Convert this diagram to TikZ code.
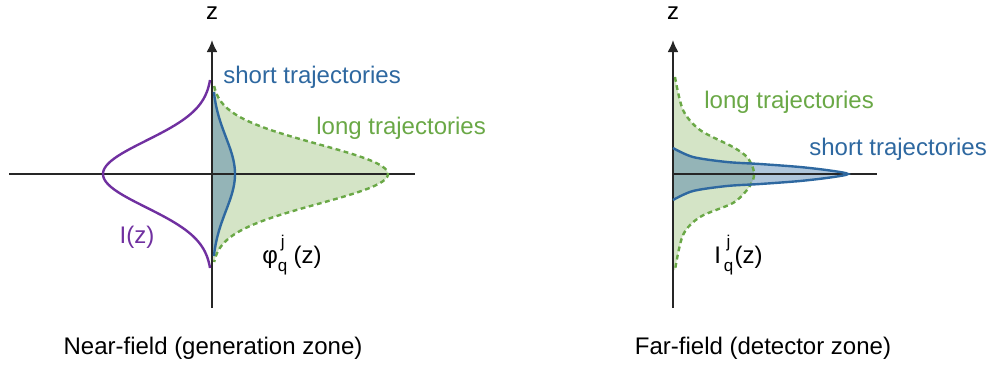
\documentclass[tikz,border=0pt]{standalone}
\usepackage{fontspec}
\setmainfont{Liberation Sans}
\usetikzlibrary{arrows.meta}
\definecolor{curvepurple}{RGB}{112,48,160}
\definecolor{shortblue}{RGB}{46,104,160}
\definecolor{longgreen}{RGB}{106,168,70}
\definecolor{longfill}{RGB}{212,228,198}

\begin{document}
\begin{tikzpicture}[x=0.5pt,y=-0.5pt,
  axis/.style={line width=1pt,black!85},
  zaxis/.style={axis,-{Latex[length=6pt,width=5.5pt]}},
  lbl/.style={inner sep=0pt,font=\fontsize{12pt}{14pt}\selectfont},
  longline/.style={longgreen,line width=1.2pt,dash pattern=on 2.4pt off 1.8pt},
  shortline/.style={shortblue,line width=1.2pt},
  shortfill/.style={fill=shortblue,fill opacity=0.38}]
\useasboundingbox (0,0) rectangle (993,372);
% near field
\coordinate (O1) at (212,174);
\coordinate (B1) at (212,308);
\coordinate (T1) at (212,40);
\coordinate (L1) at (9,174);
\coordinate (R1) at (415,174);
\fill[longfill] (212,86) -- plot[domain=-88:88,samples=80] ({212+176*exp(-(\x/42)^2)},{174+\x}) -- (212,262) -- cycle;
\fill[shortfill] (212,92) -- plot[domain=-82:82,samples=60] ({212+23*exp(-(\x/52)^2)},{174+\x}) -- (212,256) -- cycle;
\draw[axis] (L1) -- (R1);
\draw[zaxis] (B1) -- (T1);
\draw[longline] plot[domain=-88:88,samples=80] ({212+176*exp(-(\x/42)^2)},{174+\x});
\draw[shortline] plot[domain=-82:82,samples=60] ({212+23*exp(-(\x/52)^2)},{174+\x});
\draw[curvepurple,line width=1.2pt] plot[domain=-94:94,samples=80] ({212-109*exp(-(\x/47)^2)},{174+\x});
\node[lbl] (z1) at (212,13) {z};
\node[lbl,shortblue,anchor=west] (short1) at (223,77) {short trajectories};
\node[lbl,longgreen,anchor=west] (long1) at (316,128) {long trajectories};
\node[lbl,curvepurple] (int1) at (137,237) {I(z)};
\node[lbl,anchor=west] (phi1) at (262,255) {φ\rlap{\raisebox{-0.6ex}{\fontsize{8.5pt}{9pt}\selectfont q}}\raisebox{1.3ex}{\fontsize{8.5pt}{9pt}\selectfont\,j}\hspace{4.5pt}(z)};
\node[lbl] (near) at (213,348) {Near-field (generation zone)};
% far field
\coordinate (O2) at (673,174);
\coordinate (B2) at (673,308);
\coordinate (T2) at (673,40);
\coordinate (R2) at (877,174);
\fill[longfill] (673,76) -- plot[smooth] coordinates {(675,77) (683,110) (700,130) (733,147) (747,157) (753,168) (754,174) (753,180) (747,190) (733,203) (700,217) (683,235) (675,270)} -- (673,270) -- cycle;
\fill[shortfill] plot[smooth] coordinates {(673,148) (693,157) (727,162) (760,164) (800,167) (830,170.5) (848,174) (830,177.5) (800,181) (760,184) (727,186) (693,191) (673,200)} -- cycle;
\draw[axis] (O2) -- (R2);
\draw[zaxis] (B2) -- (T2);
\draw[longline] plot[smooth] coordinates {(675,77) (683,110) (700,130) (733,147) (747,157) (753,168) (754,174) (753,180) (747,190) (733,203) (700,217) (683,235) (675,270)};
\draw[shortline] plot[smooth] coordinates {(673,148) (693,157) (727,162) (760,164) (800,167) (830,170.5) (848,174) (830,177.5) (800,181) (760,184) (727,186) (693,191) (673,200)};
\node[lbl] (z2) at (673,13) {z};
\node[lbl,longgreen,anchor=west] (long2) at (704,102) {long trajectories};
\node[lbl,shortblue,anchor=west] (short2) at (809,149) {short trajectories};
\node[lbl,anchor=west] (int2) at (714,255) {I\rlap{\raisebox{-0.6ex}{\fontsize{8.5pt}{9pt}\selectfont\,q}}\raisebox{1.3ex}{\fontsize{8.5pt}{9pt}\selectfont\,\,j}\hspace{2pt}(z)};
\node[lbl] (far) at (763,348) {Far-field (detector zone)};
\end{tikzpicture}
\end{document}
